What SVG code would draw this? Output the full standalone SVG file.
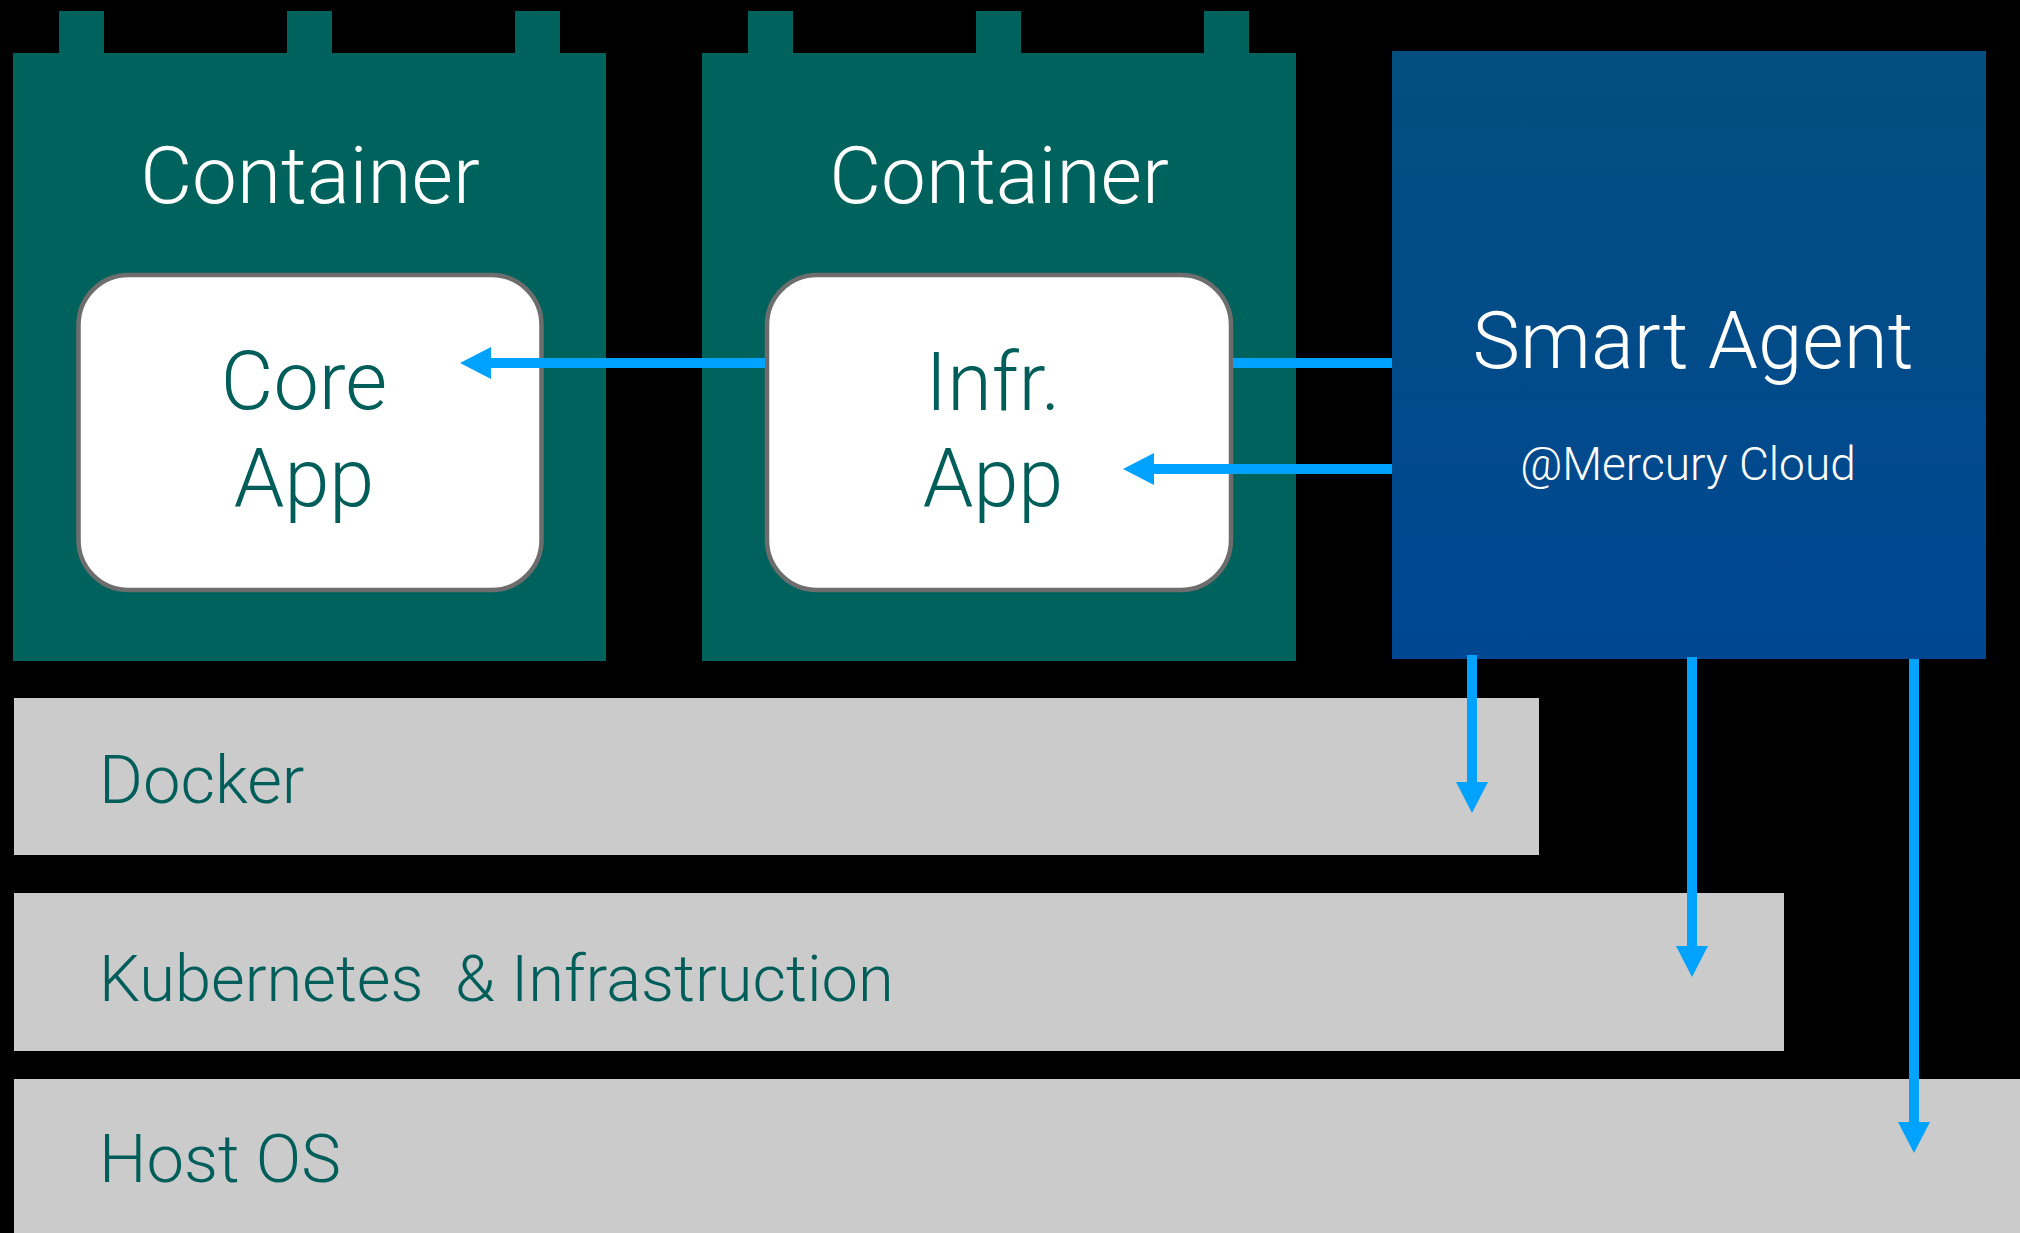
<svg xmlns="http://www.w3.org/2000/svg" width="2020" height="1233" viewBox="0 0 2020 1233">
<defs>
<linearGradient id="agentGrad" x1="0" y1="0" x2="0" y2="1">
<stop offset="0" stop-color="#034f7f"/>
<stop offset="1" stop-color="#004793"/>
</linearGradient>
<marker id="ah" viewBox="0 0 31 32" refX="2" refY="16" markerWidth="31" markerHeight="32" markerUnits="userSpaceOnUse" orient="auto">
<path d="M0,0 L31,16 L0,32 z" fill="#00a2ff"/>
</marker>
<style>
.layer{fill:#cbcbcb}
.cont{fill:#00625d}
.app{fill:#ffffff;stroke:#6d6d6d;stroke-width:4.5}
.t{font-family:"Roboto","Liberation Sans",sans-serif;font-weight:300}
.ct{font-size:80px;fill:#ffffff;text-anchor:middle}
.at{font-size:81px;fill:#005e5a;text-anchor:middle}
.lt{font-size:65px;fill:#005e5a;white-space:pre}
.lt2{font-size:67px}
.sa{font-size:80px;fill:#ffffff;text-anchor:middle}
.mc{font-size:46px;fill:#ffffff;text-anchor:middle}
.conn{stroke:#00a2ff;stroke-width:10;fill:none}
</style>
</defs>
<rect width="2020" height="1233" fill="#000000"/>
<g id="docker">
<rect class="layer" x="14" y="698" width="1525" height="157"/>
<text class="t lt lt2" x="99" y="803">Docker</text>
</g>
<g id="kubernetes">
<rect class="layer" x="14" y="893" width="1770" height="158"/>
<text class="t lt" x="99" y="1001">Kubernetes  &amp; Infrastruction</text>
</g>
<g id="hostos">
<rect class="layer" x="14" y="1079" width="2006" height="154"/>
<text class="t lt lt2" x="99" y="1182">Host OS</text>
</g>
<g id="container1">
<rect class="cont" x="59" y="11" width="45" height="43"/>
<rect class="cont" x="287" y="11" width="45" height="43"/>
<rect class="cont" x="515" y="11" width="45" height="43"/>
<rect class="cont" x="13" y="53" width="593" height="608"/>
<text class="t ct" x="310" y="203">Container</text>
</g>
<g id="container2">
<rect class="cont" x="748" y="11" width="45" height="43"/>
<rect class="cont" x="976" y="11" width="45" height="43"/>
<rect class="cont" x="1204" y="11" width="45" height="43"/>
<rect class="cont" x="702" y="53" width="594" height="608"/>
<text class="t ct" x="999" y="203">Container</text>
</g>
<g id="coreapp">
<rect class="app" x="78.5" y="275" width="463" height="315" rx="50"/>
<text class="t at" x="304" y="409">Core</text>
<text class="t at" x="304" y="506">App</text>
</g>
<g id="infrapp">
<rect class="app" x="767" y="275" width="464" height="315" rx="50"/>
<text class="t at" x="993" y="410">Infr.</text>
<text class="t at" x="993" y="506">App</text>
</g>
<g id="smartagent">
<rect x="1392" y="51" width="594" height="608" fill="url(#agentGrad)"/>
<text class="t sa" x="1693" y="368">Smart Agent</text>
<text class="t mc" x="1688" y="480">@Mercury Cloud</text>
</g>
<g id="connectors">
<path class="conn" d="M1233,363 H1392"/>
<path class="conn" d="M765,363 H489" marker-end="url(#ah)"/>
<path class="conn" d="M1392,469 H1152" marker-end="url(#ah)"/>
<path class="conn" d="M1472,655 V784" marker-end="url(#ah)"/>
<path class="conn" d="M1692,657 V948" marker-end="url(#ah)"/>
<path class="conn" d="M1914,659 V1124" marker-end="url(#ah)"/>
</g>
</svg>
